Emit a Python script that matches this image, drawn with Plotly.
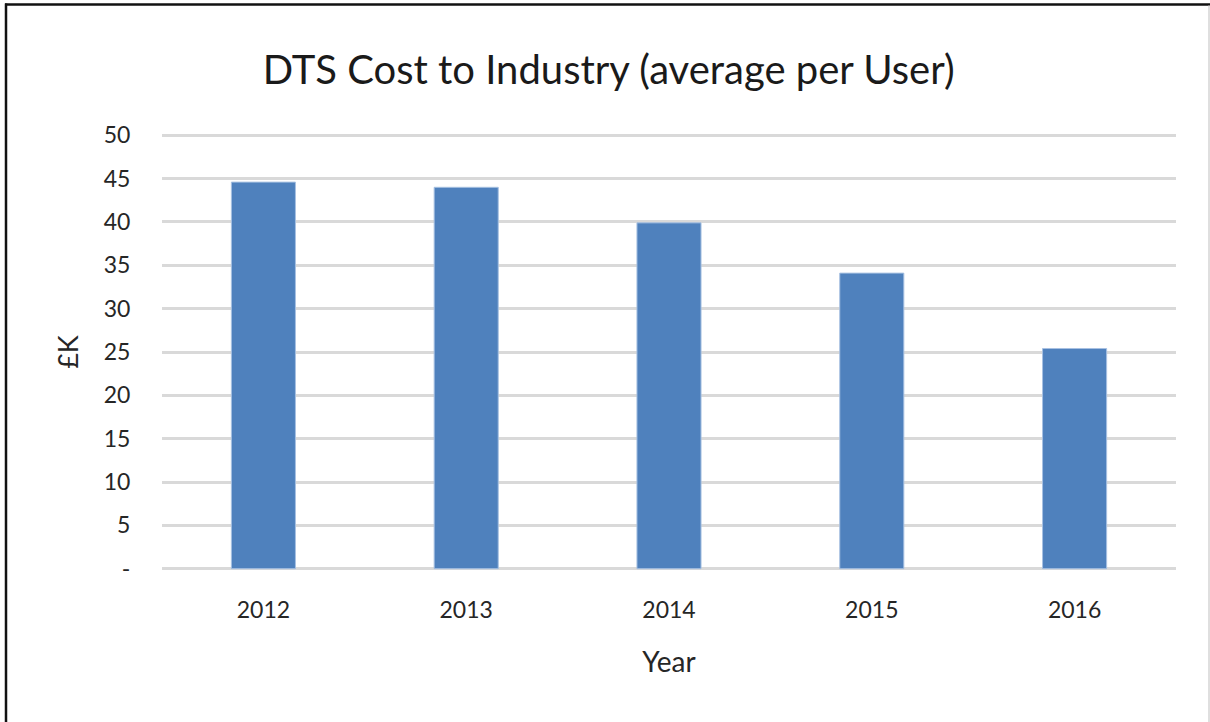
import plotly.graph_objects as go

years = ["2012", "2013", "2014", "2015", "2016"]
cost_k = [44.6, 44.0, 39.9, 34.1, 25.4]
y_tick_vals = [0, 5, 10, 15, 20, 25, 30, 35, 40, 45, 50]
y_tick_text = ["-", "5", "10", "15", "20", "25", "30", "35", "40", "45", "50"]

W, H = 1210, 722
L, R, T, B = 162, 34, 134.2, 152.4
pw = W - L - R
ph = H - T - B

def px(x):
    return (x - L) / pw

def py(y):
    return (H - B - y) / ph

FONT = "Lato"

fig = go.Figure()
fig.add_trace(go.Bar(
    x=years, y=cost_k,
    marker=dict(color="#4f81bd", line=dict(color="#a7c1e2", width=1)),
))

fig.update_layout(
    width=W, height=H,
    margin=dict(l=L, r=R, t=T, b=B, pad=0),
    paper_bgcolor="white", plot_bgcolor="white",
    bargap=0.684,
    showlegend=False,
    font=dict(family=FONT, color="#262626"),
    title=dict(text="DTS Cost to Industry (average per User)",
               x=0.503, xref="container", xanchor="center",
               y=1 - 70 / H, yref="container", yanchor="middle",
               font=dict(family=FONT, size=40, color="#1a1a1a")),
    xaxis=dict(showgrid=False, showline=False, zeroline=False,
               ticks="outside", ticklen=19, tickcolor="rgba(0,0,0,0)",
               tickfont=dict(size=23, color="#262626"),
               title=dict(text="Year", font=dict(size=28, color="#262626"), standoff=30)),
    yaxis=dict(range=[-0.15, 50.15], tickvals=y_tick_vals, ticktext=y_tick_text,
               showgrid=True, gridcolor="#d9d9d9", gridwidth=2.5,
               zeroline=False, showline=False,
               ticks="outside", ticklen=26, tickcolor="rgba(0,0,0,0)",
               tickfont=dict(size=23, color="#262626"),
               title=dict(text="£K", font=dict(size=27, color="#262626"), standoff=17)),
)

# outer frame: dark top and left edges, light right edge
fig.add_shape(type="line", xref="paper", yref="paper",
              x0=px(5), x1=px(1212), y0=py(5), y1=py(5),
              line=dict(color="#111111", width=2.5))
fig.add_shape(type="line", xref="paper", yref="paper",
              x0=px(6), x1=px(6), y0=py(4), y1=py(730),
              line=dict(color="#111111", width=2.5))
fig.add_shape(type="line", xref="paper", yref="paper",
              x0=px(1209), x1=px(1209), y0=py(6), y1=py(730),
              line=dict(color="#d4d4d4", width=1.5))

fig.write_html("out.html", config={"displayModeBar": False},
               post_script="document.body.style.margin='0';")
